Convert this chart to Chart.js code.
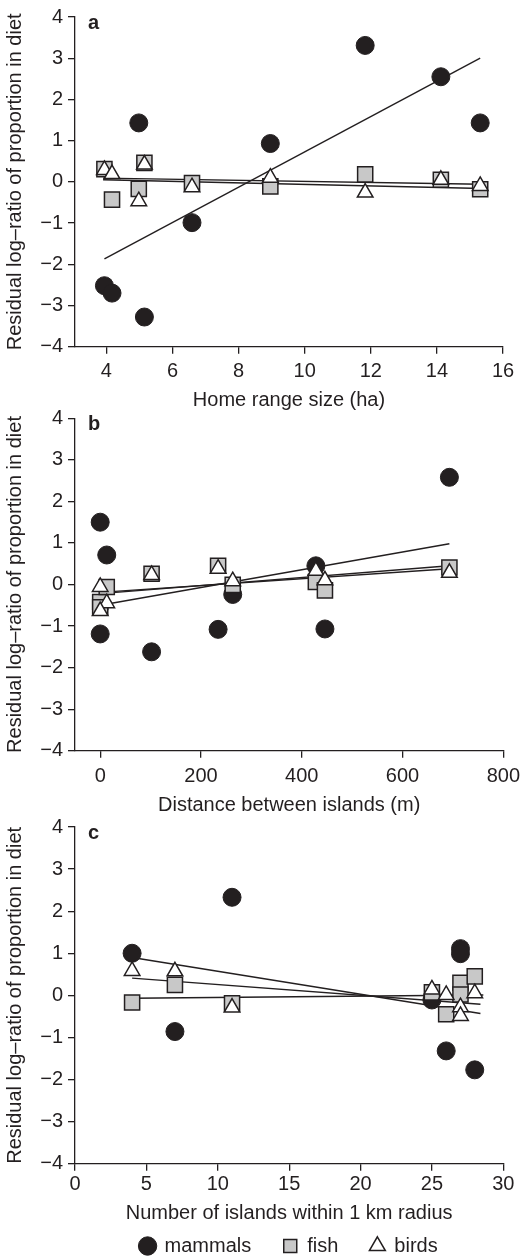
<!DOCTYPE html>
<html>
<head>
<meta charset="utf-8">
<script src="https://cdn.jsdelivr.net/npm/chart.js@4.4.0/dist/chart.umd.min.js"></script>
<style>
body { margin: 0; width: 527px; height: 1260px; overflow: hidden; background: #fff; position: relative; }
.panel { position: absolute; left: 0; width: 527px; }
</style>
</head>
<body>
<div class="panel" style="top:0px;height:420px"><canvas id="chartA"></canvas></div>
<div class="panel" style="top:400px;height:420px"><canvas id="chartB"></canvas></div>
<div class="panel" style="top:810px;height:458px"><canvas id="chartC"></canvas></div>
<script>
var ink = "#231f20";
var yTicks = [-4, -3, -2, -1, 0, 1, 2, 3, 4];

// panel a - home range size (ha)
var xTicksA = [4, 6, 8, 10, 12, 14, 16];
var homeRange = [3.94, 4.17, 4.98, 5.15, 6.59, 8.96, 11.83, 14.12, 15.31];
var mammalsA = [-2.52, -2.70, 1.43, -3.28, -0.99, 0.93, 3.31, 2.55, 1.43];
var fishA = [0.31, -0.43, -0.17, 0.46, -0.03, -0.11, 0.18, 0.05, -0.18];
var birdsA = [0.29, 0.19, -0.47, 0.42, -0.13, 0.10, -0.26, 0.05, -0.10];
var mammalsLineXA = [3.94, 15.31];
var mammalsLineA = [-1.87, 3.0];
var fishLineXA = [3.9, 15.38];
var fishLineA = [0.05, -0.16];
var birdsLineXA = [3.9, 15.35];
var birdsLineA = [0.09, -0.06];

// panel b - distance between islands (m)
var xTicksB = [0, 200, 400, 600, 800];
var distance = [0, 13, 0, 102, 234, 263, 428, 446, 693];
var mammalsB = [1.50, 0.71, -1.19, -1.62, -1.08, -0.24, 0.45, -1.07, 2.58];
var fishB = [-0.42, -0.06, -0.55, 0.26, 0.45, -0.01, 0.06, -0.14, 0.41];
var birdsB = [-0.06, -0.45, -0.64, 0.23, 0.38, 0.08, 0.33, 0.10, 0.28];
var lineXB = [0, 693];
var mammalsLineB = [-0.5, 0.98];
var fishLineB = [-0.22, 0.45];
var birdsLineB = [-0.19, 0.38];

// panel c - number of islands within 1 km
var xTicksC = [0, 5, 10, 15, 20, 25, 30];
var islands = [4, 7, 11, 25, 26, 27, 27, 28];
var mammalsC = [1.0, -0.86, 2.33, -0.11, -1.32, 1.11, 0.99, -1.77];
var fishC = [-0.17, 0.25, -0.19, 0.07, -0.45, 0.30, 0.02, 0.45];
var birdsC = [0.58, 0.57, -0.29, 0.14, 0.01, -0.28, -0.49, 0.05];
var mammalsLineXC = [4, 28.4];
var mammalsLineC = [0.9, -0.43];
var fishLineXC = [4, 28.6];
var fishLineC = [-0.07, 0.01];
var birdsLineXC = [4, 28.4];
var birdsLineC = [0.41, -0.21];

Chart.defaults.font.family = '"Liberation Sans", Arial, sans-serif';
Chart.defaults.font.size = 20;
Chart.defaults.color = ink;

function pts(xs, ys) {
    return xs.map(function (x, i) { return { x: x, y: ys[i] }; });
}

function trend(xs, ys) {
    return { data: pts(xs, ys), showLine: true, pointRadius: 0, borderColor: ink, borderWidth: 1.4, fill: false };
}

var panelLetter = {
    id: "panelLetter",
    afterDraw: function (chart, args, opts) {
        var ctx = chart.ctx;
        ctx.save();
        ctx.font = 'bold 20px "Liberation Sans", Arial, sans-serif';
        ctx.fillStyle = ink;
        ctx.textBaseline = "alphabetic";
        ctx.fillText(opts.text, chart.chartArea.left + 13, chart.chartArea.top + 12);
        ctx.restore();
    }
};

function drawPanel(id, p) {
    var axisGrid = { drawOnChartArea: false, drawTicks: true, tickLength: 7, color: ink, lineWidth: 1.3 };
    new Chart(document.getElementById(id), {
        type: "scatter",
        data: {
            datasets: [
                { label: "birds", data: pts(p.xs, p.birds), pointStyle: "triangle", pointRadius: 9,
                  backgroundColor: "#ffffff", borderColor: ink, borderWidth: 1.5 },
                { label: "fish", data: pts(p.xs, p.fish), pointStyle: "rect", pointRadius: 10.7,
                  backgroundColor: "#c8c8c8", borderColor: ink, borderWidth: 1.5 },
                { label: "mammals", data: pts(p.xs, p.mammals), pointStyle: "circle", pointRadius: 9,
                  backgroundColor: ink, borderColor: ink, borderWidth: 1 },
                trend(p.lines[0][0], p.lines[0][1]),
                trend(p.lines[1][0], p.lines[1][1]),
                trend(p.lines[2][0], p.lines[2][1])
            ]
        },
        options: {
            responsive: true,
            maintainAspectRatio: false,
            animation: false,
            layout: { padding: p.padding },
            scales: {
                x: {
                    type: "linear", min: p.xmin, max: p.xmax,
                    afterBuildTicks: function (s) { s.ticks = p.xTicks.map(function (v) { return { value: v }; }); },
                    afterFit: function (s) { s.height = p.xHeight; },
                    grid: axisGrid,
                    border: { color: ink, width: 1.3 },
                    ticks: { padding: p.xPad, color: ink, maxRotation: 0, autoSkip: false },
                    title: { display: true, text: p.xTitle, color: ink, padding: { top: 0, bottom: p.titlePad } }
                },
                y: {
                    min: -4, max: 4,
                    afterBuildTicks: function (s) { s.ticks = yTicks.map(function (v) { return { value: v }; }); },
                    afterFit: function (s) { s.width = 75; },
                    grid: axisGrid,
                    border: { color: ink, width: 1.3 },
                    ticks: { padding: 5, color: ink, callback: function (v) { return v < 0 ? "\u2212" + (-v) : "" + v; } },
                    title: { display: true, text: "Residual log\u2013ratio of proportion in diet", color: ink, padding: { top: 3, bottom: 0 } }
                }
            },
            plugins: {
                tooltip: { enabled: false },
                panelLetter: { text: p.letter },
                legend: {
                    display: p.legend,
                    position: "bottom",
                    fullSize: false,
                    labels: {
                        usePointStyle: true, boxWidth: 14, boxHeight: 13, padding: 32, color: ink,
                        filter: function (item) { return item.datasetIndex < 3; },
                        sort: function (a, b) { return b.datasetIndex - a.datasetIndex; }
                    }
                }
            }
        },
        plugins: [panelLetter]
    });
}

drawPanel("chartA", {
    letter: "a", xs: homeRange, mammals: mammalsA, fish: fishA, birds: birdsA,
    lines: [[mammalsLineXA, mammalsLineA], [fishLineXA, fishLineA], [birdsLineXA, birdsLineA]],
    xmin: 3.05, xmax: 16, xTicks: xTicksA, xTitle: "Home range size (ha)",
    padding: { top: 12.7, right: 24, bottom: 8, left: 0 }, xHeight: 65.3, xPad: 6, titlePad: 0, legend: false
});

drawPanel("chartB", {
    letter: "b", xs: distance, mammals: mammalsB, fish: fishB, birds: birdsB,
    lines: [[lineXB, mammalsLineB], [lineXB, fishLineB], [lineXB, birdsLineB]],
    xmin: -50, xmax: 800, xTicks: xTicksB, xTitle: "Distance between islands (m)",
    padding: { top: 18.3, right: 21.3, bottom: 2.3, left: 0 }, xHeight: 67, xPad: 7, titlePad: 0, legend: false
});

drawPanel("chartC", {
    letter: "c", xs: islands, mammals: mammalsC, fish: fishC, birds: birdsC,
    lines: [[mammalsLineXC, mammalsLineC], [fishLineXC, fishLineC], [birdsLineXC, birdsLineC]],
    xmin: 0, xmax: 30, xTicks: xTicksC, xTitle: "Number of islands within 1 km radius",
    padding: { top: 16, right: 23.7, bottom: 2, left: 0 }, xHeight: 40.3, xPad: 2, titlePad: -21, legend: true
});
</script>
</body>
</html>
